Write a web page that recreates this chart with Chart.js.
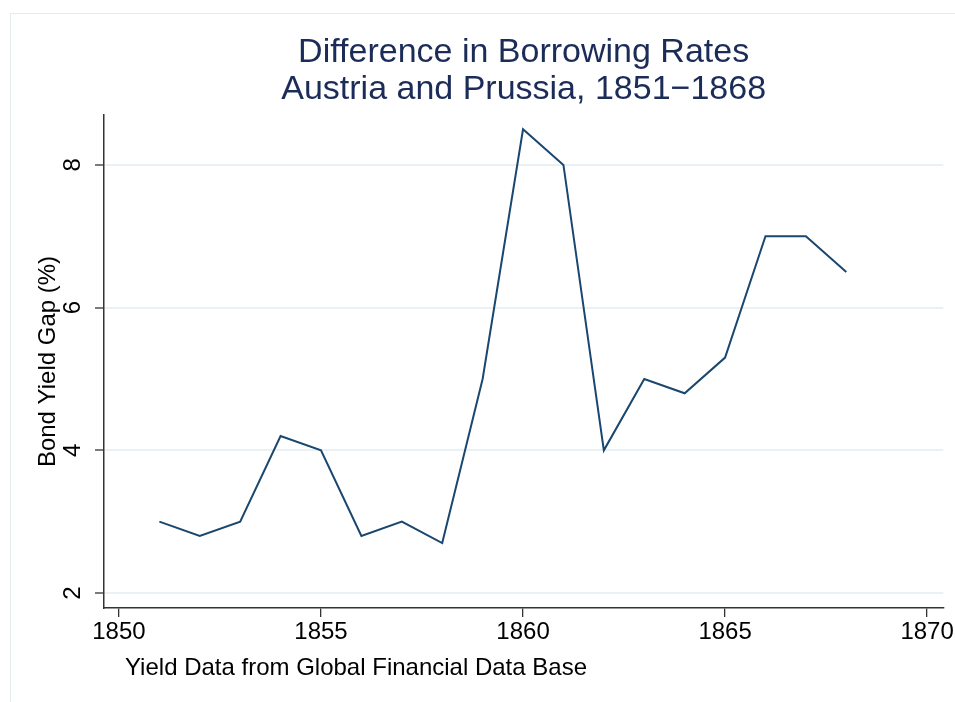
<!DOCTYPE html>
<html>
<head>
<meta charset="utf-8">
<script src="https://cdn.jsdelivr.net/npm/chart.js@4/dist/chart.umd.min.js"></script>
<style>
  html, body { margin: 0; padding: 0; background: #fff; }
  #wrap { width: 955px; height: 702px; }
</style>
</head>
<body>
<div id="wrap"><canvas id="gap"></canvas></div>
<script>
// data
const years = [1851, 1852, 1853, 1854, 1855, 1856, 1857, 1858, 1859, 1860, 1861, 1862, 1863, 1864, 1865, 1866, 1867, 1868];
const yieldGap = [3.0, 2.8, 3.0, 4.2, 4.0, 2.8, 3.0, 2.7, 5.0, 8.5, 8.0, 4.0, 5.0, 4.8, 5.3, 7.0, 7.0, 6.5];
const xTicks = [1850, 1855, 1860, 1865, 1870];
const yTicks = [2, 4, 6, 8];
const titleLines = ["Difference in Borrowing Rates", "Austria and Prussia, 1851\u22121868"];
const yTitle = "Bond Yield Gap (%)";
const note = "Yield Data from Global Financial Data Base";

const FONT = "'Liberation Sans', Arial, Helvetica, sans-serif";
const navy = "#1a476f";
const axisColor = "#333333";

// white page, faint outer frame, title centred over the plot, source note
const pagePlugin = {
    id: "page",
    beforeDraw(chart) {
        const ctx = chart.ctx;
        ctx.save();
        ctx.fillStyle = "#ffffff";
        ctx.fillRect(0, 0, chart.width, chart.height);
        ctx.strokeStyle = "#e4eced";
        ctx.lineWidth = 1;
        ctx.strokeRect(10.5, 13.5, chart.width + 10, chart.height + 10);
        ctx.restore();
    },
    afterDraw(chart) {
        const ctx = chart.ctx;
        const area = chart.chartArea;
        ctx.save();
        // title (centred on the plot region like the original)
        ctx.font = "34px " + FONT;
        ctx.fillStyle = "#1c2c58";
        ctx.textAlign = "center";
        ctx.textBaseline = "middle";
        const cx = (area.left + area.right) / 2;
        titleLines.forEach((t, i) => ctx.fillText(t, cx, 53 + i * 37));
        // note
        ctx.font = "24px " + FONT;
        ctx.fillStyle = "#000000";
        ctx.textAlign = "left";
        ctx.fillText(note, 125, 668);
        ctx.restore();
    }
};

let ctx = document.getElementById("gap").getContext("2d");
new Chart(ctx, {
    type: "line",
    data: {
        datasets: [{
            data: years.map((y, i) => ({ x: y, y: yieldGap[i] })),
            borderColor: navy,
            borderWidth: 2,
            pointRadius: 0,
            tension: 0,
            fill: false
        }]
    },
    options: {
        responsive: true,
        maintainAspectRatio: false,
        animation: false,
        layout: { padding: { left: 10, right: 10, top: 115, bottom: 0 } },
        plugins: {
            legend: { display: false },
            tooltip: { enabled: false },
            title: { display: false }
        },
        scales: {
            x: {
                type: "linear",
                min: 1849.63,
                max: 1870.4,
                afterBuildTicks: s => { s.ticks = xTicks.map(v => ({ value: v })); },
                afterFit: s => { s.height = 94; },
                grid: { drawOnChartArea: false, tickLength: 9, tickColor: axisColor, lineWidth: 1.3 },
                border: { color: axisColor, width: 1.5 },
                ticks: {
                    color: "#000",
                    font: { family: FONT, size: 24 },
                    padding: 1,
                    maxRotation: 0,
                    autoSkip: false,
                    callback: v => String(v)
                }
            },
            y: {
                min: 1.79,
                max: 8.7,
                afterBuildTicks: s => { s.ticks = yTicks.map(v => ({ value: v })); },
                afterFit: s => { s.width = 94; },
                grid: { color: "#eaf1f4", lineWidth: 2, tickLength: 9, tickColor: axisColor, tickWidth: 1.3 },
                border: { color: axisColor, width: 1.5 },
                ticks: {
                    color: "#000",
                    font: { family: FONT, size: 24 },
                    minRotation: 90,
                    maxRotation: 90,
                    crossAlign: "center",
                    padding: 15,
                    autoSkip: false
                },
                title: {
                    display: true,
                    text: yTitle,
                    color: "#000",
                    font: { family: FONT, size: 24 },
                    padding: { top: 24, bottom: 0 }
                }
            }
        }
    },
    plugins: [pagePlugin]
});
</script>
</body>
</html>
